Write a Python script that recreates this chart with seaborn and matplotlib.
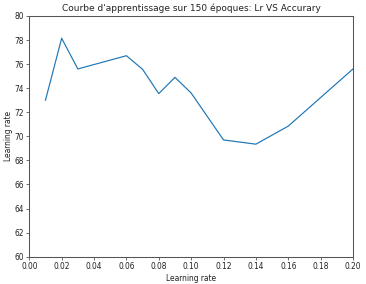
import matplotlib
matplotlib.use("Agg")
import matplotlib.pyplot as plt
import seaborn as sns
import pandas as pd

learning_rates = [0.01, 0.02, 0.03, 0.06, 0.07, 0.08, 0.09, 0.10, 0.12, 0.14, 0.16, 0.20]
accuracy = [73.0, 78.15, 75.6, 76.7, 75.57, 73.55, 74.9, 73.6, 69.7, 69.35, 70.85, 75.6]
x_ticks = [0.00, 0.02, 0.04, 0.06, 0.08, 0.10, 0.12, 0.14, 0.16, 0.18, 0.20]
y_ticks = [60, 62, 64, 66, 68, 70, 72, 74, 76, 78, 80]

s = 0.572
fs = 5.45
plt.rcParams.update({
    "font.family": ["DejaVu Sans"],
    "font.size": fs,
    "axes.linewidth": 0.75,
    "axes.edgecolor": "#555555",
    "xtick.color": "#555555",
    "ytick.color": "#555555",
    "xtick.labelcolor": "#222222",
    "ytick.labelcolor": "#222222",
    "xtick.major.width": 0.6,
    "ytick.major.width": 0.6,
    "xtick.major.size": 3.5 * s,
    "ytick.major.size": 3.5 * s,
    "xtick.major.pad": 3.5 * s,
    "ytick.major.pad": 3.5 * s,
})

df = pd.DataFrame({"lr": learning_rates, "acc": accuracy})

fig = plt.figure(figsize=(3.66, 2.84), dpi=100)
ax = fig.add_axes([0.080, 0.0961, 0.8845, 0.8476])
sns.lineplot(data=df, x="lr", y="acc", ax=ax, color="#1f77b4", linewidth=1.5 * s)
ax.set_xlim(0, 0.2)
ax.set_ylim(60, 80)
ax.set_xticks(x_ticks)
ax.set_xticklabels([f"{t:.2f}" for t in x_ticks], fontsize=fs)
ax.set_yticks(y_ticks)
ax.set_yticklabels([str(t) for t in y_ticks], fontsize=fs)
ax.set_xlabel("Learning rate", fontsize=fs, labelpad=4 * s, color="#222222")
ax.set_ylabel("Learning rate", fontsize=fs, labelpad=1.2, color="#222222")
ax.set_title("Courbe d'apprentissage sur 150 époques: Lr VS Accurary", fontsize=6.5, pad=6 * s, color="#222222")

fig.savefig("out.png", dpi=100)
